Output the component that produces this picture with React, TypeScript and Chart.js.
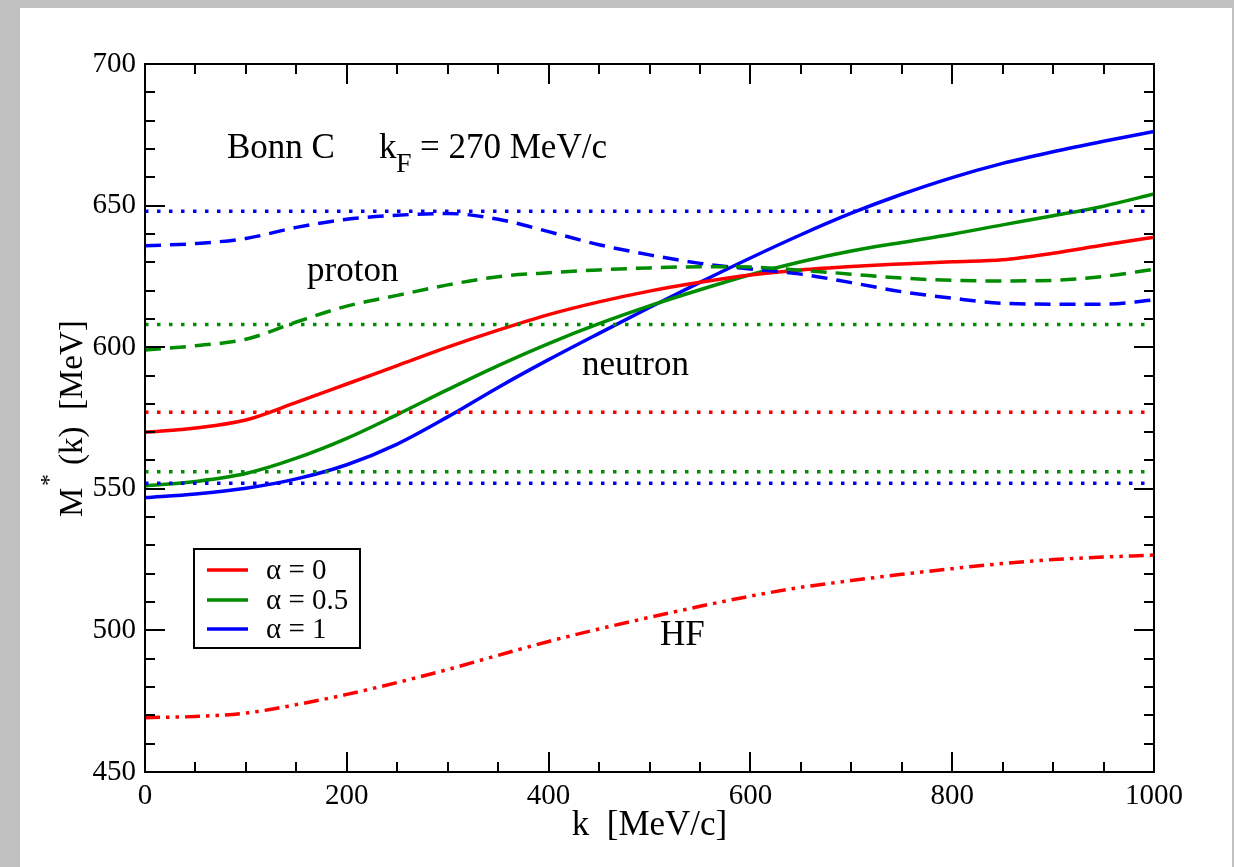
import React, { useEffect, useRef } from "react";
import { Chart, registerables } from "chart.js";

Chart.register(...registerables);

// ---- data ----
const kValues = [0, 50, 100, 150, 200, 250, 300, 350, 400, 450, 500, 550, 600, 650, 700, 750, 800, 850, 900, 950, 1000];

// solid: neutron
const neutronAlpha0 = [570.0, 571.5, 574.3, 580.5, 587.0, 593.5, 600.0, 606.0, 611.5, 616.0, 619.8, 622.9, 625.5, 627.3, 628.5, 629.4, 630.2, 630.9, 633.2, 636.1, 638.8];
const neutronAlpha05 = [551.0, 552.6, 555.4, 560.8, 567.8, 576.2, 585.0, 593.5, 601.3, 608.3, 614.6, 620.3, 625.6, 630.2, 634.0, 637.0, 639.9, 643.2, 646.4, 649.8, 654.1];
const neutronAlpha1 = [546.9, 548.2, 550.2, 553.5, 558.5, 565.8, 575.4, 585.8, 595.6, 604.9, 614.0, 622.9, 631.5, 639.7, 647.3, 654.0, 659.9, 664.9, 669.0, 672.7, 676.2];

// dashed: proton
const protonAlpha05 = [599.0, 600.5, 602.8, 608.9, 614.5, 618.3, 622.0, 624.9, 626.3, 627.3, 628.0, 628.4, 628.3, 627.2, 625.8, 624.4, 623.6, 623.4, 623.6, 625.0, 627.5];
const protonAlpha1 = [635.8, 636.6, 638.4, 642.3, 645.2, 646.6, 647.2, 645.2, 640.8, 636.2, 632.6, 629.6, 627.6, 625.8, 622.8, 619.6, 617.3, 615.5, 615.2, 615.2, 616.7];

// dash-dot-dot: HF
const hfAlpha0 = [469.2, 469.6, 470.8, 473.8, 477.4, 481.6, 486.2, 491.2, 496.1, 500.5, 504.6, 508.5, 512.1, 515.2, 517.6, 519.8, 521.8, 523.6, 525.0, 525.9, 526.6];

// dotted horizontal reference levels
const refAlpha0 = [577];
const refAlpha05 = [608, 556];
const refAlpha1 = [648, 552];

const legendLabels = ["\u03b1 = 0", "\u03b1 = 0.5", "\u03b1 = 1"];
const xRange = [0, 1000];
const yRange = [450, 700];
const xMajorStep = 200;
const xMinorStep = 50;
const yMajorStep = 50;
const yMinorStep = 10;

const RED = "#ff0000";
const GREEN = "#008c00";
const BLUE = "#0000ff";
const SERIF = '"Liberation Serif", "DejaVu Serif", serif';

const toPts = (ys: number[]) => ys.map((y, i) => ({ x: kValues[i], y }));
const hLine = (v: number) => [
  { x: xRange[0], y: v },
  { x: xRange[1], y: v },
];

const decorPlugin = {
  id: "decor",
  afterDraw(chart: any) {
    const { ctx, chartArea: a, scales } = chart;
    const xs = scales.x;
    const ys = scales.y;
    ctx.save();
    ctx.strokeStyle = "#000";
    ctx.lineWidth = 2;
    ctx.strokeRect(a.left, a.top, a.right - a.left, a.bottom - a.top);

    // inward ticks on all four sides
    ctx.beginPath();
    for (let v = xRange[0]; v <= xRange[1]; v += xMinorStep) {
      const px = Math.round(xs.getPixelForValue(v));
      const len = v % xMajorStep === 0 ? 20 : 10;
      ctx.moveTo(px, a.bottom);
      ctx.lineTo(px, a.bottom - len);
      ctx.moveTo(px, a.top);
      ctx.lineTo(px, a.top + len);
    }
    for (let v = yRange[0]; v <= yRange[1]; v += yMinorStep) {
      const py = Math.round(ys.getPixelForValue(v));
      const len = v % yMajorStep === 0 ? 20 : 10;
      ctx.moveTo(a.left, py);
      ctx.lineTo(a.left + len, py);
      ctx.moveTo(a.right, py);
      ctx.lineTo(a.right - len, py);
    }
    ctx.stroke();

    // legend box
    const lx = 194, ly = 549, lw = 166, lh = 99;
    ctx.fillStyle = "#fff";
    ctx.fillRect(lx, ly, lw, lh);
    ctx.lineWidth = 2;
    ctx.strokeStyle = "#000";
    ctx.strokeRect(lx, ly, lw, lh);
    const legendColors = [RED, GREEN, BLUE];
    const rowY = [570, 600, 629];
    ctx.font = `29px ${SERIF}`;
    ctx.textBaseline = "middle";
    ctx.textAlign = "left";
    legendLabels.forEach((lab, i) => {
      ctx.strokeStyle = legendColors[i];
      ctx.lineWidth = 3.5;
      ctx.beginPath();
      ctx.moveTo(207, rowY[i]);
      ctx.lineTo(248, rowY[i]);
      ctx.stroke();
      ctx.fillStyle = "#000";
      ctx.fillText(lab, 266, rowY[i] + 1);
    });

    // annotations
    ctx.fillStyle = "#000";
    ctx.textBaseline = "alphabetic";
    ctx.font = `35px ${SERIF}`;
    ctx.fillText("Bonn C", 227, 158);
    ctx.fillText("k", 379, 158);
    ctx.font = `28px ${SERIF}`;
    ctx.fillText("F", 396, 172);
    ctx.font = `35px ${SERIF}`;
    ctx.fillText("= 270 MeV/c", 420, 158);
    ctx.fillText("proton", 307, 281);
    ctx.fillText("neutron", 582, 375);
    ctx.fillText("HF", 660, 645);

    // x axis title
    ctx.textAlign = "center";
    ctx.fillText("k  [MeV/c]", (a.left + a.right) / 2, 835);

    // y axis title (rotated, with superscript)
    ctx.save();
    ctx.translate(82, (a.top + a.bottom) / 2 + 99);
    ctx.rotate(-Math.PI / 2);
    ctx.textAlign = "left";
    ctx.font = `33px ${SERIF}`;
    ctx.fillText("M", 0, 0);
    ctx.font = `24px ${SERIF}`;
    ctx.fillText("*", 31, -26);
    ctx.font = `33px ${SERIF}`;
    ctx.fillText("(k)  [MeV]", 52, 0);
    ctx.restore();

    ctx.restore();
  },
};

export default function App() {
  const canvasRef = useRef<HTMLCanvasElement | null>(null);

  useEffect(() => {
    document.body.style.margin = "0";
    const canvas = canvasRef.current;
    if (!canvas) return;

    const solid = (label: string, data: number[], color: string) => ({
      label,
      data: toPts(data),
      borderColor: color,
      borderWidth: 3.5,
      pointRadius: 0,
      cubicInterpolationMode: "monotone" as const,
      borderCapStyle: "butt" as const,
      fill: false,
    });
    const dashed = (label: string, data: number[], color: string, dash: number[]) => ({
      ...solid(label, data, color),
      borderDash: dash,
    });
    const dotted = (label: string, v: number, color: string) => ({
      label,
      data: hLine(v),
      borderColor: color,
      borderWidth: 3.5,
      borderDash: [3.5, 8.5],
      borderCapStyle: "butt" as const,
      pointRadius: 0,
      fill: false,
    });

    const datasets: any[] = [
      ...refAlpha0.map((v) => dotted("ref α=0", v, RED)),
      ...refAlpha05.map((v) => dotted("ref α=0.5", v, GREEN)),
      ...refAlpha1.map((v) => dotted("ref α=1", v, BLUE)),
      dashed("proton α=0.5", protonAlpha05, GREEN, [16, 9]),
      dashed("proton α=1", protonAlpha1, BLUE, [16, 9]),
      dashed("HF α=0", hfAlpha0, RED, [15, 6, 3.5, 6, 3.5, 6]),
      solid(legendLabels[0], neutronAlpha0, RED),
      solid(legendLabels[1], neutronAlpha05, GREEN),
      solid(legendLabels[2], neutronAlpha1, BLUE),
    ];

    const chart = new Chart(canvas, {
      type: "line",
      data: { datasets },
      options: {
        animation: false,
        responsive: false,
        maintainAspectRatio: false,
        layout: { padding: { left: 0, top: 64, right: 80, bottom: 0 } },
        plugins: {
          legend: { display: false },
          tooltip: { enabled: false },
        },
        scales: {
          x: {
            type: "linear",
            min: xRange[0],
            max: xRange[1],
            ticks: {
              stepSize: xMajorStep,
              color: "#000",
              font: { family: SERIF, size: 29 },
              padding: 7,
              maxRotation: 0,
              callback: (v: any) => String(v),
            },
            grid: { display: false, drawTicks: false },
            border: { display: false },
            afterFit: (s: any) => {
              s.height = 95;
            },
          },
          y: {
            type: "linear",
            min: yRange[0],
            max: yRange[1],
            ticks: {
              stepSize: yMajorStep,
              color: "#000",
              font: { family: SERIF, size: 29 },
              padding: 9,
              callback: (v: any) => String(v),
            },
            grid: { display: false, drawTicks: false },
            border: { display: false },
            afterFit: (s: any) => {
              s.width = 145;
            },
          },
        },
      },
      plugins: [decorPlugin],
    });

    return () => chart.destroy();
  }, []);

  return (
    <div
      style={{
        position: "fixed",
        left: 0,
        top: 0,
        width: 1234,
        height: 867,
        background: "#c0c0c0",
        overflow: "hidden",
      }}
    >
      <div
        style={{
          position: "absolute",
          left: 20,
          top: 8,
          width: 1212,
          height: 859,
          background: "#ffffff",
        }}
      />
      <canvas
        ref={canvasRef}
        width={1234}
        height={867}
        style={{ position: "absolute", left: 0, top: 0, width: 1234, height: 867 }}
      />
    </div>
  );
}
